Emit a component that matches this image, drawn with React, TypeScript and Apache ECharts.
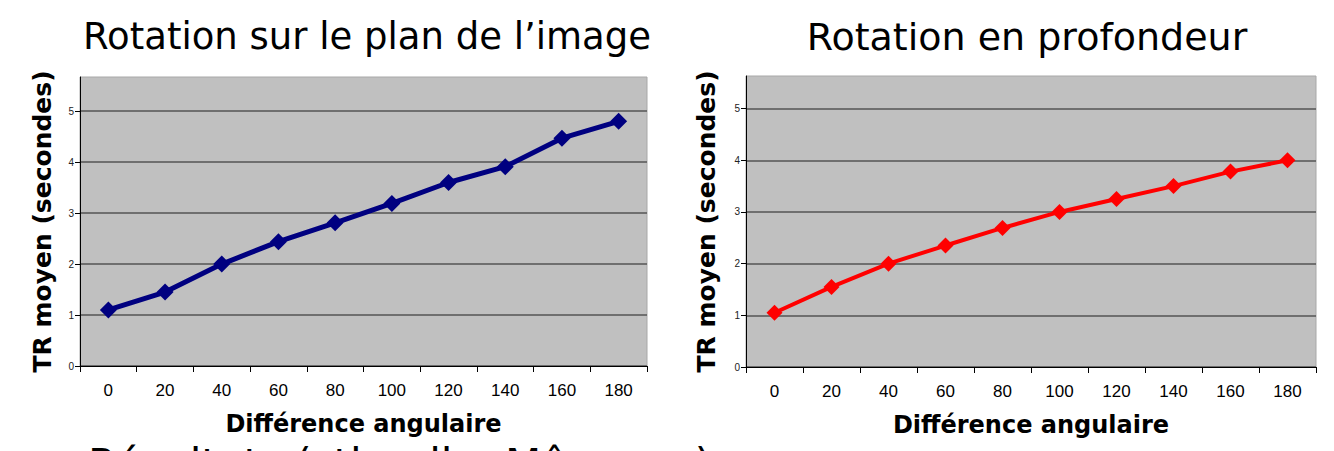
import React, { useEffect, useRef } from "react";
import * as echarts from "echarts";

const categories = ["0", "20", "40", "60", "80", "100", "120", "140", "160", "180"];
const planValues = [1.1, 1.45, 2.0, 2.44, 2.81, 3.19, 3.6, 3.91, 4.47, 4.8];
const depthValues = [1.05, 1.55, 2.0, 2.35, 2.69, 3.0, 3.25, 3.5, 3.78, 4.0];
const titles = ["Rotation sur le plan de l\u2019image", "Rotation en profondeur"];
const yName = "TR moyen (secondes)";
const xName = "Diff\u00e9rence angulaire";
const footer = "R\u00e9sultats (stimuli \u00ab M\u00eames \u00bb)";

export default function App() {
  const ref = useRef<HTMLDivElement>(null);
  useEffect(() => {
    if (!ref.current) return;
    const chart = echarts.init(ref.current, null, { renderer: "svg" });
    const grids = [
      { left: 80, right: 687, top: 77, bottom: 85 },
      { left: 746, right: 18, top: 76, bottom: 84 },
    ];
    const maxes = [5.67, 5.63];
    const gaps = [25, 27];
    const mkX = (i: number) => ({
      type: "category",
      gridIndex: i,
      data: categories,
      boundaryGap: true,
      axisLine: { show: true, lineStyle: { color: "#000", width: 1 } },
      axisTick: { show: true, length: 6, lineStyle: { color: "#000" } },
      axisLabel: { color: "#000", fontSize: 17, fontFamily: "Liberation Sans", margin: 16 },
      name: xName,
      nameLocation: "middle",
      nameGap: 46,
      nameTextStyle: { color: "#000", fontSize: 24, fontWeight: "bold", fontFamily: "DejaVu Sans" },
      splitLine: { show: false },
    });
    const mkY = (i: number) => ({
      type: "value",
      gridIndex: i,
      min: 0,
      max: maxes[i],
      interval: 1,
      axisLine: { show: true, lineStyle: { color: "#000", width: 1 } },
      axisTick: { show: true, length: 5, lineStyle: { color: "#000" } },
      axisLabel: {
        color: "#222",
        fontSize: 10,
        fontFamily: "Liberation Sans",
        margin: 6,
        showMaxLabel: false,
        formatter: (v: number) => (Number.isInteger(v) ? String(v) : ""),
      },
      splitLine: { show: true, showMaxLine: false, lineStyle: { color: "#555", width: 1.5 } },
      name: yName,
      nameLocation: "middle",
      nameGap: gaps[i],
      nameTextStyle: { color: "#000", fontSize: 25, fontWeight: "bold", fontFamily: "DejaVu Sans" },
    });
    chart.setOption({
      animation: false,
      backgroundColor: "#fff",
      grid: grids.map((g) => ({
        ...g,
        show: true,
        backgroundColor: "#c0c0c0",
        borderColor: "#a8a8a8",
        borderWidth: 1,
        containLabel: false,
      })),
      xAxis: [mkX(0), mkX(1)],
      yAxis: [mkY(0), mkY(1)],
      series: [
        {
          type: "line",
          xAxisIndex: 0,
          yAxisIndex: 0,
          data: planValues,
          symbol: "diamond",
          symbolSize: 17,
          lineStyle: { color: "#000080", width: 5 },
          itemStyle: { color: "#000080" },
        },
        {
          type: "line",
          xAxisIndex: 1,
          yAxisIndex: 1,
          data: depthValues,
          symbol: "diamond",
          symbolSize: 16,
          lineStyle: { color: "#ff0000", width: 4 },
          itemStyle: { color: "#ff0000" },
        },
      ],
      graphic: [
        {
          type: "text",
          x: 367,
          y: 18,
          style: {
            text: titles[0],
            font: "37px 'DejaVu Sans'",
            fill: "#000",
            align: "center",
            verticalAlign: "top",
          },
        },
        {
          type: "text",
          x: 1027,
          y: 18,
          style: {
            text: titles[1],
            font: "38px 'DejaVu Sans'",
            fill: "#000",
            align: "center",
            verticalAlign: "top",
          },
        },
        {
          type: "text",
          x: 88,
          y: 443,
          style: {
            text: footer,
            font: "42px 'DejaVu Sans'",
            fill: "#000",
            align: "left",
            verticalAlign: "top",
          },
        },
      ],
    });
    return () => chart.dispose();
  }, []);
  return (
    <div
      ref={ref}
      style={{ position: "fixed", left: 0, top: 0, width: 1334, height: 451, background: "#fff" }}
    />
  );
}
